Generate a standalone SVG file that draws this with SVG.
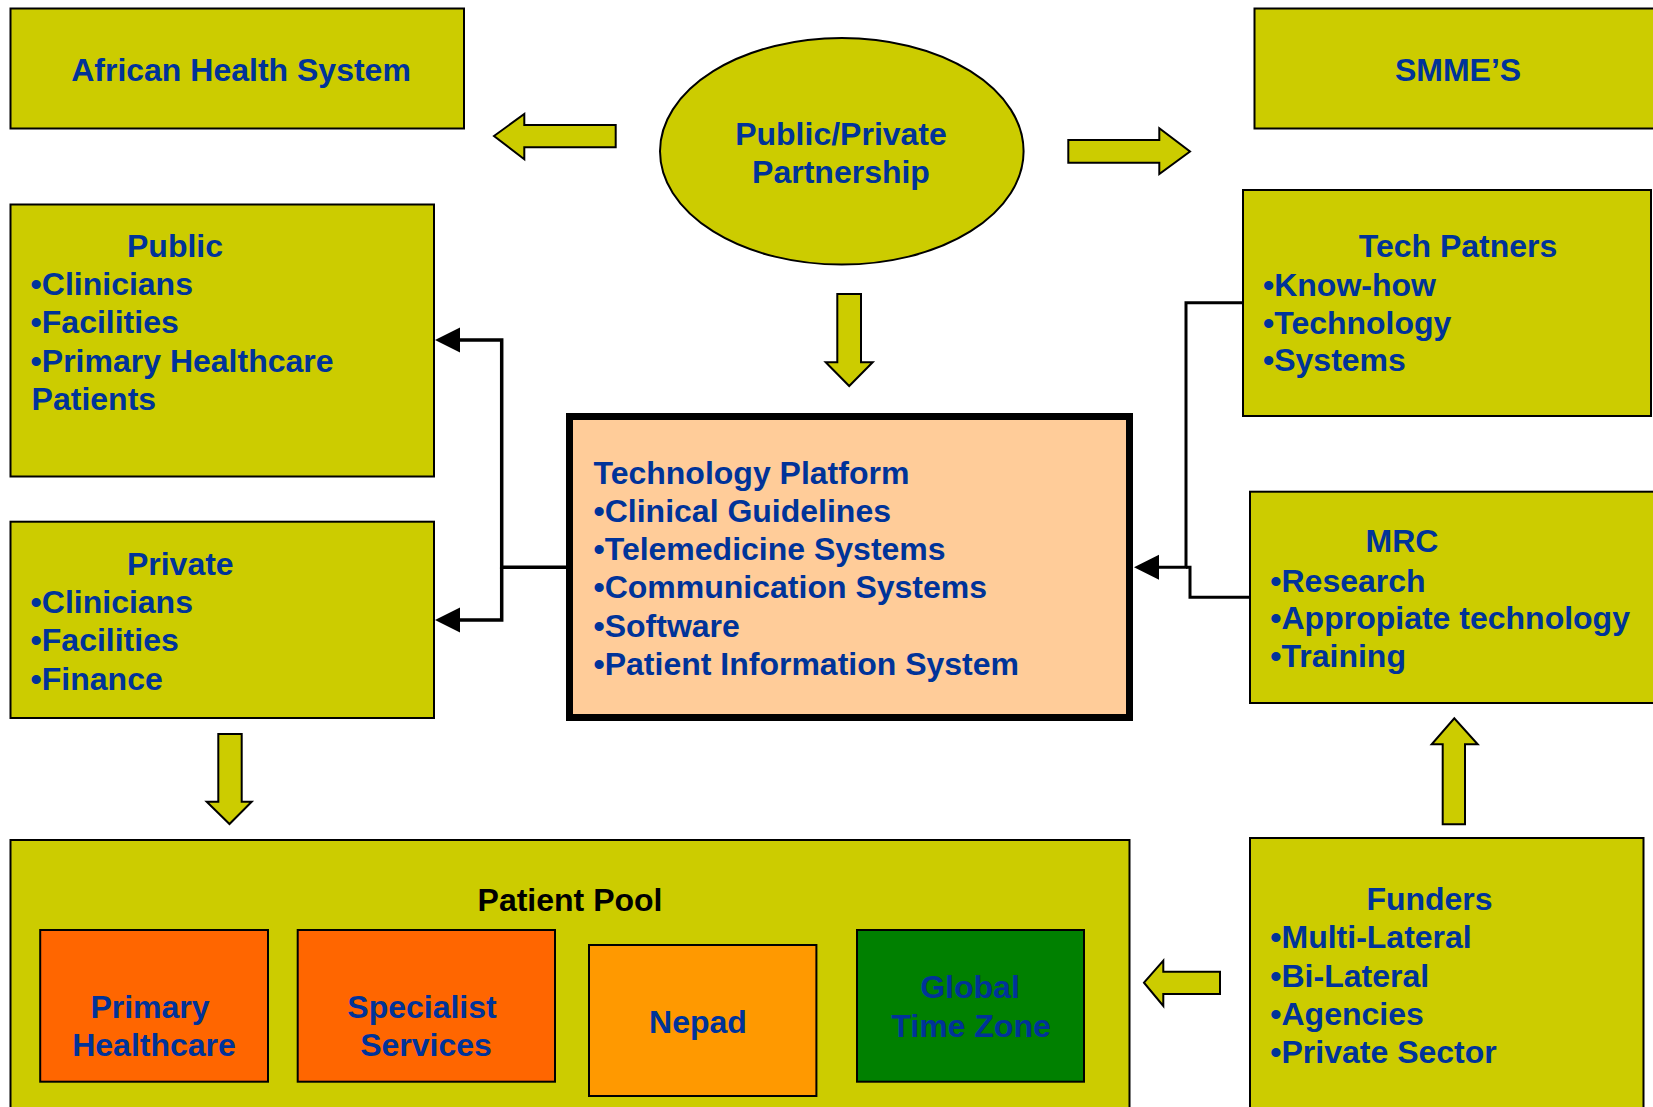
<svg xmlns="http://www.w3.org/2000/svg" width="1653" height="1107" viewBox="0 0 1653 1107">
<style>
.box{fill:#CCCC00;stroke:#000;stroke-width:2}
.blk{fill:#CCCC00;stroke:#000;stroke-width:2;stroke-linejoin:miter}
.t{font-family:"Liberation Sans",Arial,sans-serif;font-weight:bold;font-size:32px;fill:#003399}
.c{text-anchor:middle}
.con{fill:none;stroke:#000;stroke-width:3.5}
.con2{fill:none;stroke:#000;stroke-width:3}
</style>
<defs>
<marker id="ah" markerUnits="userSpaceOnUse" markerWidth="26" markerHeight="26" refX="10" refY="12.5" orient="auto">
<path d="M0,0 L25,12.5 L0,25 z" fill="#000"/>
</marker>
</defs>
<rect width="1653" height="1107" fill="#fff"/>

<g id="african-health-system">
<rect class="box" x="10.5" y="8.5" width="453.5" height="120"/>
<text class="t c" x="241" y="81">African Health System</text>
</g>

<g id="smmes">
<rect class="box" x="1254.5" y="8.5" width="410" height="120"/>
<text class="t c" x="1458" y="81">SMME’S</text>
</g>

<g id="ppp">
<ellipse class="box" cx="841.8" cy="151.3" rx="181.8" ry="113.3"/>
<text class="t c" x="841" y="145">Public/Private</text>
<text class="t c" x="841" y="182.5">Partnership</text>
</g>

<g id="public">
<rect class="box" x="10.5" y="204.5" width="423.5" height="272"/>
<text class="t c" x="175" y="256.7">Public</text>
<text class="t" x="30.6" y="294.7">•Clinicians</text>
<text class="t" x="30.6" y="333">•Facilities</text>
<text class="t" x="30.6" y="371.6">•Primary Healthcare</text>
<text class="t" x="31.6" y="409.5">Patients</text>
</g>

<g id="private">
<rect class="box" x="10.5" y="521.7" width="423.5" height="196.3"/>
<text class="t c" x="180.3" y="575">Private</text>
<text class="t" x="30.6" y="613">•Clinicians</text>
<text class="t" x="30.6" y="651">•Facilities</text>
<text class="t" x="30.6" y="690">•Finance</text>
</g>

<g id="tech-platform">
<rect x="569.5" y="416.5" width="560" height="301" fill="#FFCC99" stroke="#000" stroke-width="7"/>
<text class="t" x="593.5" y="484">Technology Platform</text>
<text class="t" x="593.5" y="521.5">•Clinical Guidelines</text>
<text class="t" x="593.5" y="560">•Telemedicine Systems</text>
<text class="t" x="593.5" y="598.3">•Communication Systems</text>
<text class="t" x="593.5" y="636.5">•Software</text>
<text class="t" x="593.5" y="675">•Patient Information System</text>
</g>

<g id="tech-patners">
<rect class="box" x="1243" y="190" width="408" height="226"/>
<text class="t c" x="1458" y="256.7">Tech Patners</text>
<text class="t" x="1263" y="295.5">•Know-how</text>
<text class="t" x="1263" y="333.5">•Technology</text>
<text class="t" x="1263" y="371">•Systems</text>
</g>

<g id="mrc">
<rect class="box" x="1250" y="491.7" width="415" height="211.3"/>
<text class="t c" x="1402" y="552">MRC</text>
<text class="t" x="1270.3" y="591.5">•Research</text>
<text class="t" x="1270.3" y="629.3">•Appropiate technology</text>
<text class="t" x="1270.3" y="666.7">•Training</text>
</g>

<g id="funders">
<rect class="box" x="1250" y="838" width="393.5" height="290"/>
<text class="t c" x="1429.5" y="910.3">Funders</text>
<text class="t" x="1270.3" y="948.3">•Multi-Lateral</text>
<text class="t" x="1270.3" y="987">•Bi-Lateral</text>
<text class="t" x="1270.3" y="1025.2">•Agencies</text>
<text class="t" x="1270.3" y="1063.2">•Private Sector</text>
</g>

<g id="patient-pool">
<rect class="box" x="10.5" y="840" width="1119" height="290"/>
<text class="t c" x="570" y="911" style="fill:#000">Patient Pool</text>
</g>

<g id="primary-healthcare">
<rect x="40.2" y="930" width="227.8" height="151.7" fill="#FF6600" stroke="#000" stroke-width="2"/>
<text class="t c" x="150" y="1017.7">Primary</text>
<text class="t c" x="154" y="1055.7">Healthcare</text>
</g>

<g id="specialist-services">
<rect x="297.7" y="930" width="257.3" height="151.7" fill="#FF6600" stroke="#000" stroke-width="2"/>
<text class="t c" x="422" y="1017.7">Specialist</text>
<text class="t c" x="426" y="1055.7">Services</text>
</g>

<g id="nepad">
<rect x="589" y="945" width="227.4" height="151" fill="#FF9900" stroke="#000" stroke-width="2"/>
<text class="t c" x="698" y="1032.7">Nepad</text>
</g>

<g id="global-time-zone">
<rect x="857" y="930" width="227" height="151.7" fill="#008000" stroke="#000" stroke-width="2"/>
<text class="t c" x="970" y="998">Global</text>
<text class="t c" x="971" y="1036.7">Time Zone</text>
</g>

<g id="connectors">
<polygon class="blk" points="494,136 524.3,114 524.3,125 615.7,125 615.7,147.3 524.3,147.3 524.3,159.3"/>
<polygon class="blk" points="1068.3,140 1159.3,140 1159.3,128.3 1190,151.5 1159.3,174 1159.3,162.7 1068.3,162.7"/>
<polygon class="blk" points="837.3,294 861,294 861,362.3 872.7,362.3 849.2,386 825.7,362.3 837.3,362.3"/>
<polygon class="blk" points="218.3,734 241.7,734 241.7,801.7 251.7,801.7 229.5,824 206.7,801.7 218.3,801.7"/>
<polygon class="blk" points="1442.7,824.3 1465,824.3 1465,744.3 1477.7,744.3 1454.3,718.3 1431.7,744.3 1442.7,744.3"/>
<polygon class="blk" points="1144,982.7 1163.3,960.7 1163.3,971.7 1220,971.7 1220,994 1163.3,994 1163.3,1006"/>
<path class="con" d="M566,567.3 H501.7 V340 H450" marker-end="url(#ah)"/>
<path class="con" d="M501.7,567.3 V620 H450" marker-end="url(#ah)"/>
<path class="con2" d="M1243,302.7 H1186 V567.3 H1149" marker-end="url(#ah)"/>
<path class="con2" d="M1250,597.3 H1190 V567.3 H1186"/>
</g>
</svg>
